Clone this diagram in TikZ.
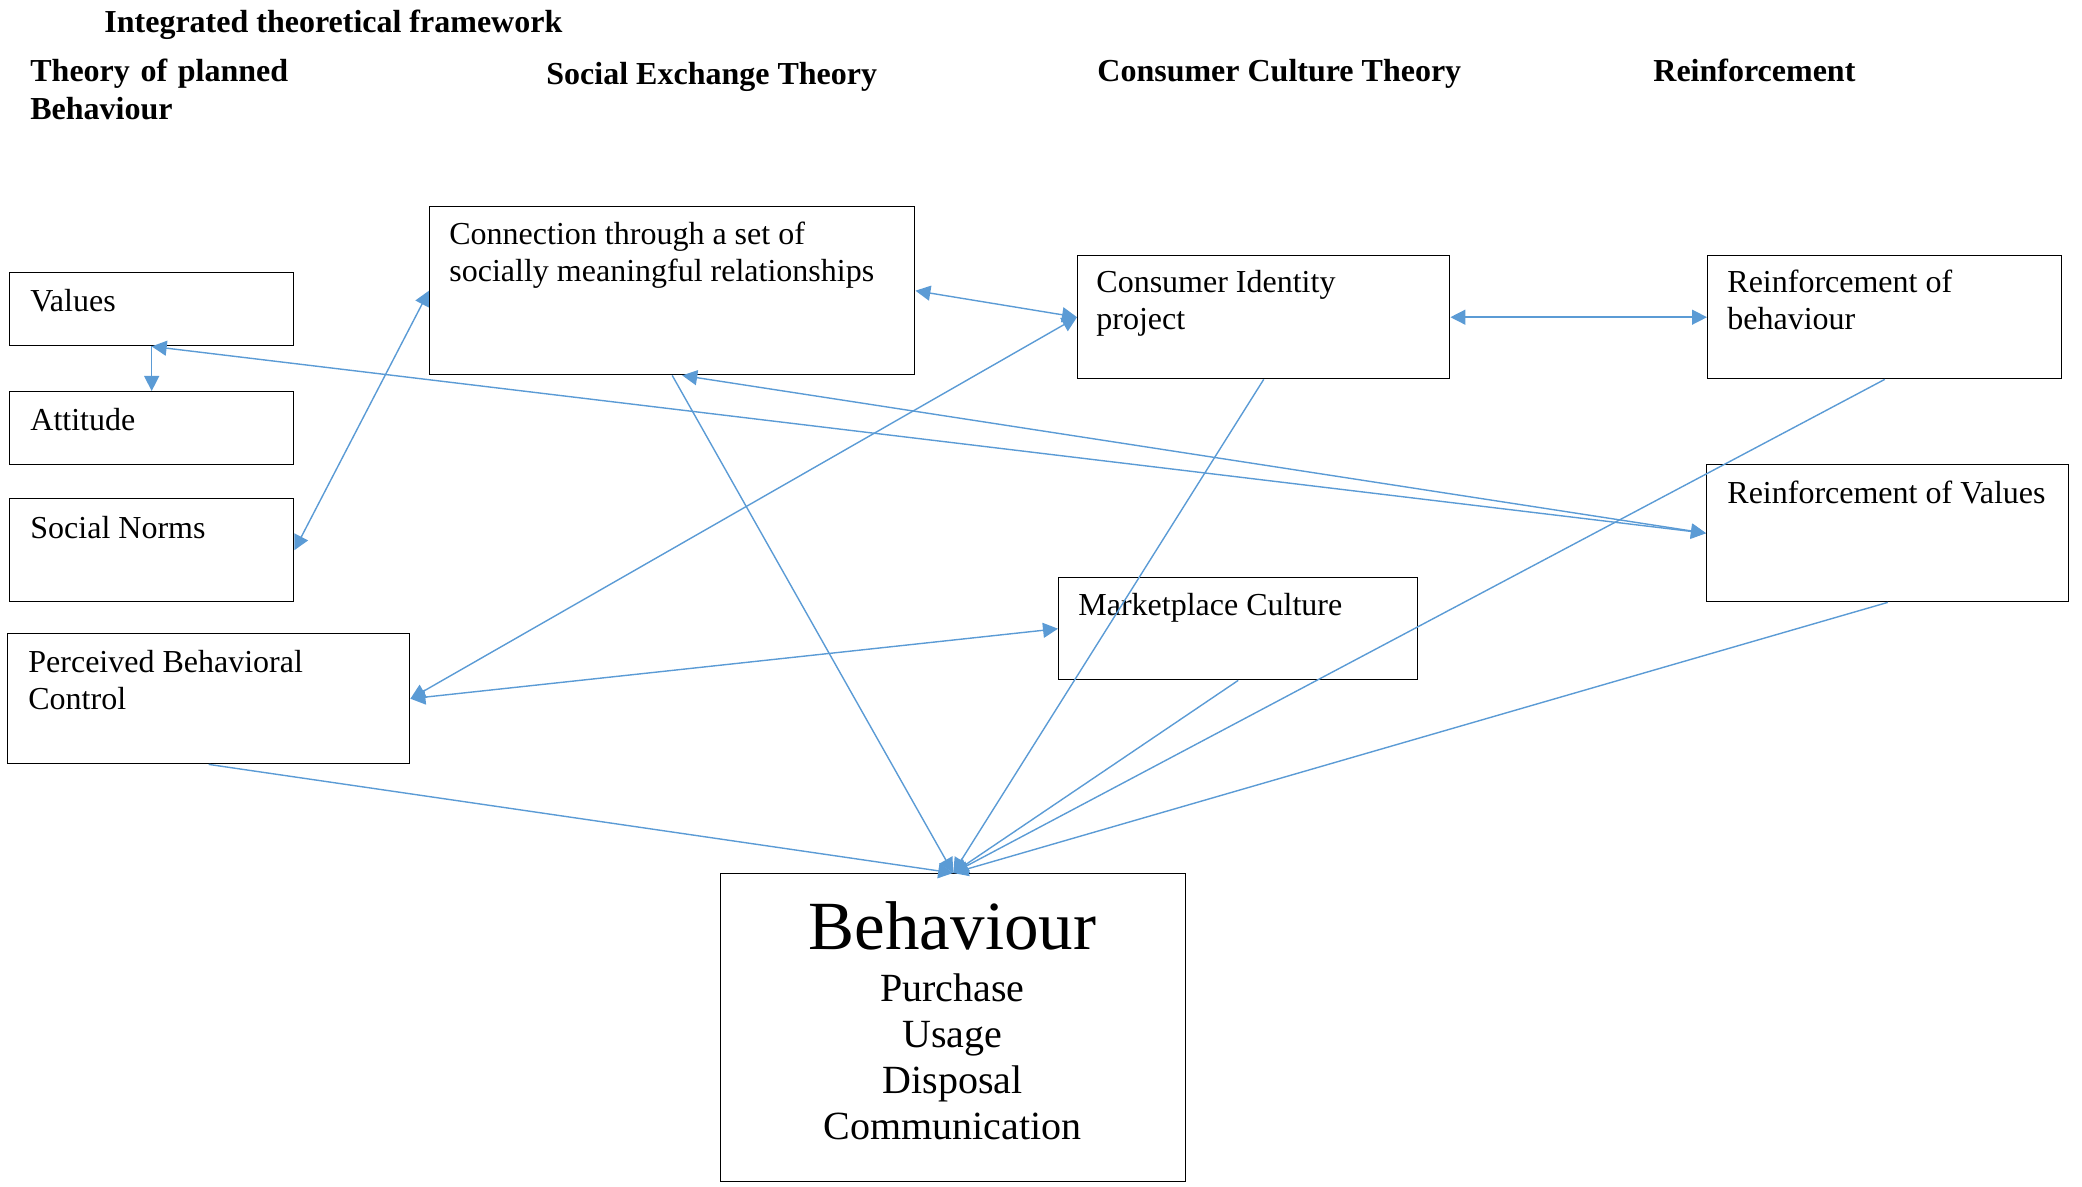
\documentclass[tikz,border=0pt]{standalone}
\usepackage{fontspec}
\setmainfont{Liberation Serif}
\usetikzlibrary{arrows.meta,calc}
\definecolor{linkblue}{HTML}{5B9BD5}
\begin{document}
\begin{tikzpicture}[x=0.5pt,y=-0.5pt,
  box/.style={draw=black, line width=0.7pt, rectangle, inner sep=0pt, anchor=north west},
  lbl/.style={anchor=base west, inner sep=0pt, font=\fontsize{16pt}{18.5pt}\selectfont},
  lbltwo/.style={lbl, align=left},
  head/.style={anchor=base west, inner sep=0pt, font=\fontsize{16pt}{19pt}\selectfont\bfseries},
  link/.style={draw=linkblue, line width=0.7pt},
  tipped/.style={link, -{Triangle[length=7.5pt,width=7.5pt]}},
  twoway/.style={link, {Triangle[length=7.5pt,width=7.5pt]}-{Triangle[length=7.5pt,width=7.5pt]}}
]
\useasboundingbox (0,0) rectangle (2082,1187);

% column headings
\node[head] (title) at (104,33) {Integrated theoretical framework};
\node[head, text width=200pt, align=left] (htpb) at (30,82) {Theory of planned\\Behaviour};
\node[head] (hset) at (546,85) {Social Exchange Theory};
\node[head] (hcct) at (1097,82) {Consumer Culture Theory};
\node[head] (hreinf) at (1653,82) {Reinforcement};

% boxes
\node[box, minimum width=142pt, minimum height=36.5pt] (values) at (9,272) {};
\node[box, minimum width=142pt, minimum height=36.5pt] (attitude) at (9,391) {};
\node[box, minimum width=142pt, minimum height=51.5pt] (norms) at (9,498) {};
\node[box, minimum width=201pt, minimum height=65pt] (pbc) at (7,633) {};
\node[box, minimum width=242.5pt, minimum height=84pt] (conn) at (429,206) {};
\node[box, minimum width=186pt, minimum height=61.5pt] (cip) at (1077,255) {};
\node[box, minimum width=177pt, minimum height=61.5pt] (rob) at (1707,255) {};
\node[box, minimum width=181pt, minimum height=68.5pt] (rov) at (1706,464) {};
\node[box, minimum width=179.5pt, minimum height=51pt] (mc) at (1058,577) {};
\node[box, minimum width=232.5pt, minimum height=154pt] (beh) at (720,873) {};

% box texts (two-line labels are placed by the baseline of their last line)
\node[lbl] (tvalues) at (30,312) {Values};
\node[lbl] (tattitude) at (30,430) {Attitude};
\node[lbl] (tnorms) at (30,538) {Social Norms};
\node[lbltwo] (tpbc) at (28,709) {Perceived Behavioral\\Control};
\node[lbltwo] (tconn) at (449,282) {Connection through a set of\\socially meaningful relationships};
\node[lbltwo] (tcip) at (1096,330) {Consumer Identity\\project};
\node[lbltwo] (trob) at (1727,330) {Reinforcement of\\behaviour};
\node[lbl] (trov) at (1727,503) {Reinforcement of Values};
\node[lbl] (tmc) at (1078,615) {Marketplace Culture};
\node[anchor=base, inner sep=0pt, font=\fontsize{34.5pt}{40pt}\selectfont] (tbeh) at (952.5,949) {Behaviour};
\node[anchor=base, inner sep=0pt, text width=200pt, align=center,
      font=\fontsize{20pt}{23pt}\selectfont] (titems) at (952.5,1001)
      {Purchase\\Usage\\Disposal\\Communication};

% connectors
\draw[tipped] (values.south) -- (attitude.north);
\draw[twoway] (values.south) -- (rov.west);
\draw[twoway] (norms.east) -- (conn.west);
\draw[twoway] (conn.east) -- (cip.west);
\draw[twoway] (cip.west) -- (pbc.east);
\draw[twoway] (cip.east) -- (rob.west);
\draw[twoway] (pbc.east) -- (mc.west);
\draw[twoway] ([xshift=5pt]conn.south) -- (rov.west);
\draw[tipped] (pbc.south) -- (beh.north);
\draw[tipped] (conn.south) -- (beh.north);
\draw[tipped] (cip.south) -- (beh.north);
\draw[tipped] (mc.south) -- (beh.north);
\draw[tipped] (rob.south) -- (beh.north);
\draw[tipped] (rov.south) -- (beh.north);
\end{tikzpicture}
\end{document}
